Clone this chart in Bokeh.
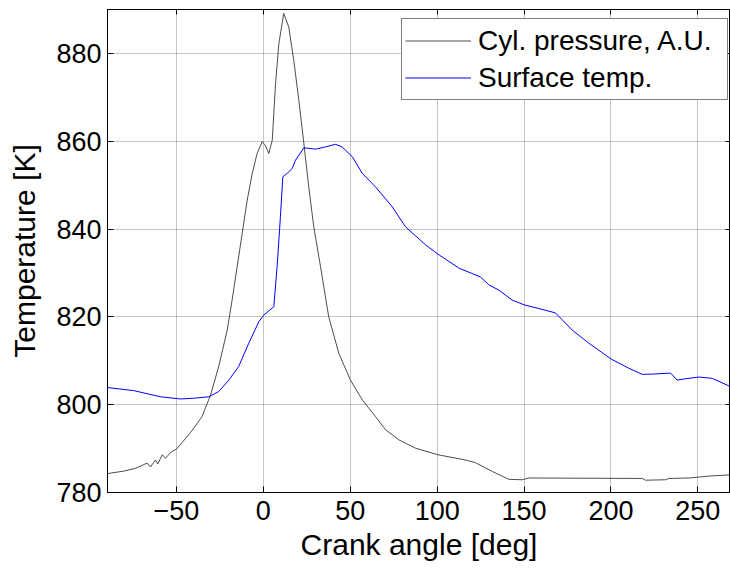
from bokeh.plotting import figure
from bokeh.models import Range1d, LinearAxis, FixedTicker, Legend, LegendItem
from bokeh.embed import file_html
from bokeh.resources import INLINE

# Cylinder pressure (arbitrary units, drawn on the temperature scale)
p_angle = [-89.7, -80, -73.6, -66.9, -65, -62.1, -60.8, -58.2, -56.3, -53.5, -50, -42,
           -36, -35.3, -30.4, -25.7, -20.8, -18, -15.1, -12.2, -9.3, -6.4, -3.6, -0.7,
           1.2, 3.1, 5.1, 7, 8.9, 11.7, 14.6, 17.5, 20.4, 23.3, 26.1, 29, 32.9, 37.6,
           43.4, 50.1, 56.9, 64.5, 70.3, 77.9, 87.5, 100.4, 116.3, 122, 131.7, 141.2,
           148.9, 152.7, 218, 219.9, 231.4, 233.3, 244.8, 258.3, 268.8]
p_value = [784.3, 784.9, 785.5, 786.7, 785.8, 787.4, 786.5, 788.6, 787.8, 789.1, 789.9,
           793.6, 796.9, 797.3, 802.2, 808.7, 817.0, 823.8, 831.4, 839.0, 846.6, 852.7,
           857.2, 859.9, 859.0, 857.2, 860.2, 873.1, 882.2, 889.1, 886.0, 878.4, 869.3,
           859.5, 849.6, 840.5, 831.4, 820.0, 811.7, 805.6, 801.1, 797.3, 794.3, 792.0,
           790.1, 788.6, 787.4, 786.8, 784.8, 783.0, 782.9, 783.3, 783.2, 782.8, 782.9,
           783.2, 783.3, 783.8, 784.0]

# Surface temperature [K]
t_angle = [-89.7, -74.6, -59.2, -47.7, -39.1, -31.4, -25.7, -19.9, -14.2, -8.4, -2.6,
           0.2, 6, 7.9, 9.8, 11.2, 13.7, 16.6, 18.5, 23.3, 30, 35.7, 41.5, 45.3, 51.1,
           56.9, 64.5, 74.1, 81.8, 93.3, 100.4, 112.5, 124.9, 129.7, 135.5, 143.2, 150.4,
           158.5, 168.1, 177.7, 187.3, 200.1, 210.3, 218, 225.6, 234.3, 238.1, 242.9,
           250.6, 258.3, 268.8]
t_value = [803.9, 803.2, 801.8, 801.3, 801.5, 801.8, 803.0, 805.6, 808.7, 814.0, 818.9,
           820.4, 822.3, 831.4, 842.8, 851.9, 852.7, 853.8, 855.7, 858.5, 858.2, 858.7,
           859.3, 858.7, 856.5, 852.7, 849.6, 845.1, 840.5, 836.4, 834.3, 831.1, 829.1,
           827.3, 826.1, 823.8, 822.7, 821.9, 820.9, 817.0, 814.0, 810.4, 808.3, 806.9,
           807.0, 807.2, 805.6, 805.9, 806.3, 806.0, 804.1]

x_ticks = [-50, 0, 50, 100, 150, 200, 250]
y_ticks = [780, 800, 820, 840, 860, 880]

FONT = "Liberation Sans"

p = figure(width=730, height=569, output_backend="svg", toolbar_location=None,
           x_range=Range1d(-89.7, 268.8), y_range=Range1d(780, 890),
           min_border_left=107, min_border_right=0, min_border_top=9, min_border_bottom=77,
           x_axis_label="Crank angle [deg]", y_axis_label="Temperature [K]")
p.background_fill_color = "white"
p.border_fill_color = "white"
p.outline_line_color = "black"
p.outline_line_width = 1

for ax in (p.xaxis[0], p.yaxis[0]):
    ax.axis_line_color = "black"
    ax.major_tick_in = 6
    ax.major_tick_out = 0
    ax.minor_tick_line_color = None
    ax.major_label_text_font = FONT
    ax.major_label_text_font_size = "27px"
    ax.major_label_text_color = "black"
    ax.axis_label_text_font = FONT
    ax.axis_label_text_font_size = "30px"
    ax.axis_label_text_font_style = "normal"
    ax.axis_label_text_color = "black"
p.xaxis[0].ticker = FixedTicker(ticks=x_ticks)
p.yaxis[0].ticker = FixedTicker(ticks=y_ticks)
p.xaxis[0].major_label_standoff = 8
p.xaxis[0].axis_label_standoff = 5
p.yaxis[0].major_label_standoff = 6
p.yaxis[0].axis_label_standoff = 12

top = LinearAxis(ticker=FixedTicker(ticks=x_ticks), major_tick_in=5, major_tick_out=0,
                 minor_tick_line_color=None, major_label_text_font_size="1px",
                 major_label_text_color=None, major_label_standoff=0,
                 axis_line_color="black")
right = LinearAxis(ticker=FixedTicker(ticks=y_ticks), major_tick_in=5, major_tick_out=0,
                   minor_tick_line_color=None, major_label_text_font_size="1px",
                   major_label_text_color=None, major_label_standoff=0,
                   axis_line_color="black")
p.add_layout(top, "above")
p.add_layout(right, "right")

p.xgrid.ticker = FixedTicker(ticks=x_ticks)
p.ygrid.ticker = FixedTicker(ticks=y_ticks)
for g in (p.xgrid[0], p.ygrid[0]):
    g.grid_line_color = "#8c8c8c"
    g.grid_line_dash = "1 1"
    g.grid_line_width = 1

r1 = p.line(p_angle, p_value, line_color="#202020", line_width=0.8)
r2 = p.line(t_angle, t_value, line_color="#0000ff", line_width=1)

legend = Legend(items=[LegendItem(label="Cyl. pressure, A.U.", renderers=[r1]),
                       LegendItem(label="Surface temp.", renderers=[r2])],
                location=(294, 392), padding=3, spacing=0, margin=0,
                glyph_width=66, glyph_height=37, label_height=37, label_width=246,
                label_standoff=7, label_text_font=FONT, label_text_font_size="28px",
                label_text_color="black", border_line_color="black", border_line_width=1,
                background_fill_color="white", background_fill_alpha=1)
p.add_layout(legend, "center")

open("out.html", "w").write(file_html(p, INLINE))
